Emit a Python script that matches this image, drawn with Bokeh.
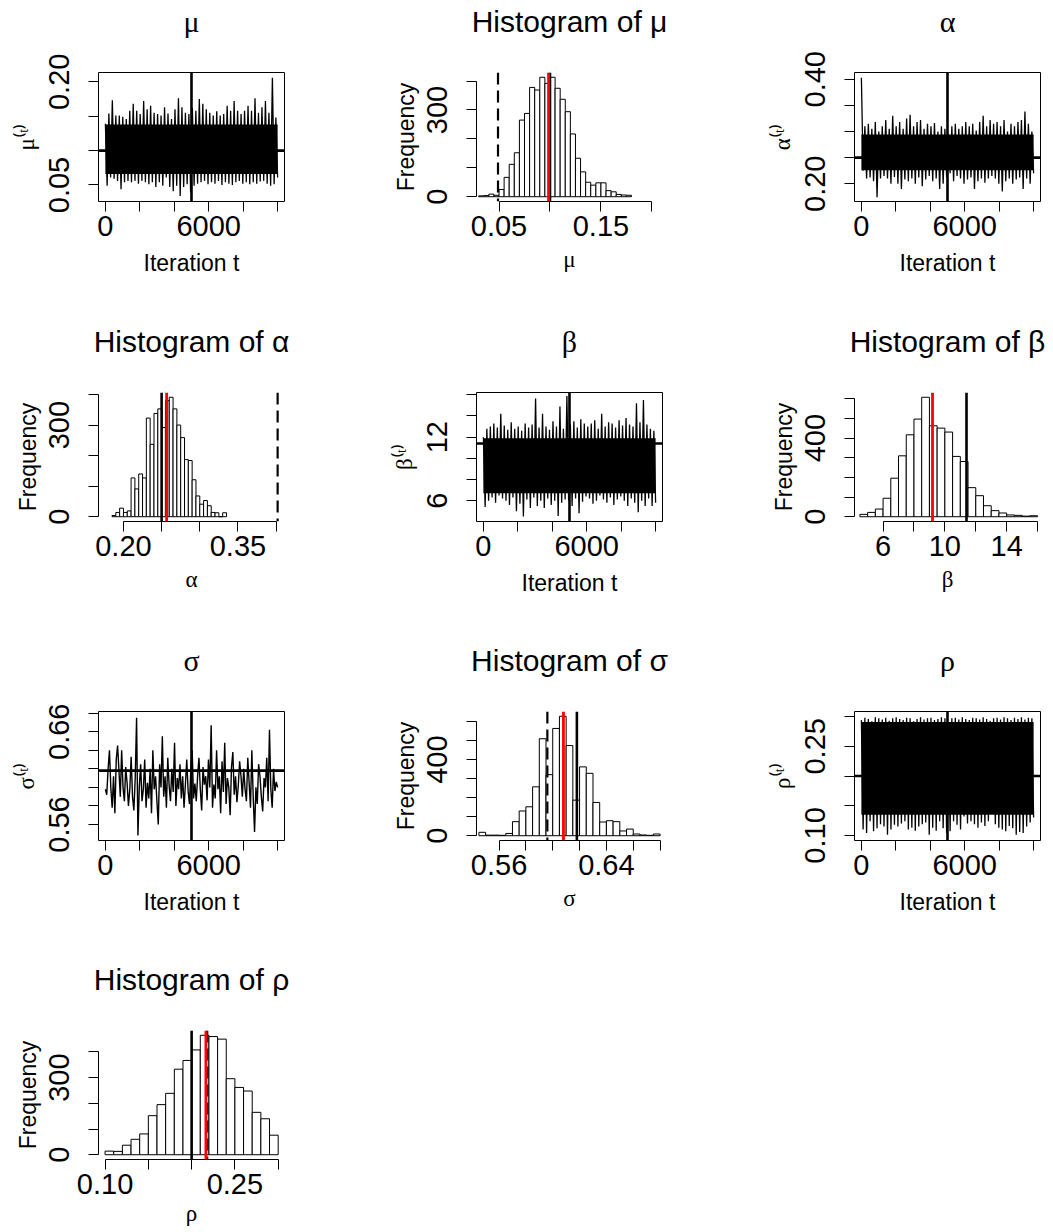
import numpy as np
from bokeh.plotting import figure
from bokeh.layouts import gridplot
from bokeh.models import Span, FixedTicker, Range1d, Title
from bokeh.embed import file_html
from bokeh.resources import INLINE

# ---------------- data ----------------
N_ITER = 10000
BURN_IN = 5000

# trace envelopes (per-bin max / min of the chains) and the solid core band
mu_hi = [0.139, 0.154, 0.173, 0.151, 0.151, 0.149, 0.146, 0.158, 0.168, 0.158,
         0.153, 0.172, 0.160, 0.165, 0.155, 0.153, 0.151, 0.163, 0.154, 0.146,
         0.160, 0.176, 0.163, 0.155, 0.153, 0.162, 0.158, 0.175, 0.168, 0.160,
         0.155, 0.151, 0.157, 0.151, 0.153, 0.165, 0.158, 0.172, 0.158, 0.153,
         0.158, 0.165, 0.158, 0.176, 0.155, 0.163, 0.172, 0.155, 0.206, 0.148]
mu_lo = [0.049, 0.061, 0.059, 0.056, 0.044, 0.054, 0.056, 0.054, 0.056, 0.052,
         0.056, 0.054, 0.051, 0.054, 0.047, 0.054, 0.049, 0.061, 0.047, 0.041,
         0.049, 0.034, 0.047, 0.051, 0.039, 0.049, 0.052, 0.054, 0.056, 0.051,
         0.054, 0.052, 0.056, 0.050, 0.054, 0.052, 0.050, 0.054, 0.056, 0.052,
         0.054, 0.051, 0.054, 0.052, 0.055, 0.056, 0.052, 0.049, 0.051, 0.061]
mu_core = [0.066, 0.138]

alpha_hi = [0.403, 0.310, 0.315, 0.305, 0.318, 0.300, 0.310, 0.322, 0.305, 0.330,
            0.310, 0.318, 0.305, 0.325, 0.332, 0.310, 0.318, 0.322, 0.305, 0.315,
            0.310, 0.316, 0.300, 0.310, 0.305, 0.295, 0.310, 0.315, 0.305, 0.310,
            0.318, 0.310, 0.315, 0.302, 0.318, 0.330, 0.310, 0.322, 0.315, 0.318,
            0.310, 0.322, 0.300, 0.315, 0.310, 0.318, 0.322, 0.338, 0.315, 0.300]
alpha_lo = [0.225, 0.210, 0.212, 0.205, 0.174, 0.210, 0.215, 0.210, 0.200, 0.213,
            0.200, 0.190, 0.208, 0.205, 0.210, 0.200, 0.212, 0.195, 0.208, 0.215,
            0.205, 0.210, 0.190, 0.200, 0.212, 0.220, 0.205, 0.215, 0.210, 0.200,
            0.208, 0.212, 0.190, 0.205, 0.210, 0.202, 0.210, 0.215, 0.210, 0.200,
            0.185, 0.205, 0.210, 0.200, 0.208, 0.212, 0.190, 0.210, 0.200, 0.220]
alpha_core = [0.226, 0.294]

beta_hi = [12.0, 12.8, 13.0, 13.3, 12.9, 14.2, 13.1, 12.7, 13.4, 12.8,
           13.0, 12.6, 13.3, 12.9, 13.2, 15.65, 12.9, 14.2, 13.0, 12.7,
           13.5, 13.0, 14.9, 12.8, 15.9, 13.2, 13.5, 12.9, 13.7, 13.3,
           13.0, 13.3, 13.6, 12.8, 14.2, 13.0, 13.4, 13.3, 12.9, 13.6,
           13.1, 13.8, 13.2, 13.0, 15.2, 13.4, 15.5, 13.2, 12.8, 12.6]
beta_lo = [5.4, 6.0, 6.3, 5.8, 6.5, 6.2, 6.0, 5.6, 6.3, 5.0,
           5.7, 4.5, 6.1, 5.3, 6.3, 5.5, 6.0, 5.3, 6.2, 5.6,
           6.0, 4.55, 5.8, 6.1, 6.0, 5.5, 6.2, 4.8, 5.9, 6.4,
           6.2, 5.7, 6.0, 6.5, 6.1, 5.8, 6.3, 5.6, 6.1, 6.4,
           6.0, 5.5, 6.2, 5.8, 4.9, 6.0, 5.5, 6.2, 5.5, 5.8]
beta_core = [6.7, 11.9]

sigma_trace = [0.598, 0.592, 0.620, 0.640, 0.600, 0.578, 0.612, 0.572, 0.630, 0.645,
               0.618, 0.590, 0.640, 0.600, 0.585, 0.622, 0.605, 0.580, 0.598, 0.633,
               0.590, 0.575, 0.610, 0.675, 0.548, 0.600, 0.625, 0.585, 0.598, 0.630,
               0.578, 0.605, 0.588, 0.620, 0.572, 0.640, 0.598, 0.612, 0.585, 0.560,
               0.625, 0.600, 0.655, 0.590, 0.612, 0.578, 0.632, 0.602, 0.585, 0.620,
               0.595, 0.648, 0.580, 0.610, 0.598, 0.625, 0.588, 0.612, 0.578, 0.603,
               0.630, 0.596, 0.582, 0.620, 0.640, 0.588, 0.604, 0.585, 0.612, 0.632,
               0.598, 0.575, 0.622, 0.603, 0.612, 0.586, 0.630, 0.600, 0.667, 0.578,
               0.603, 0.588, 0.640, 0.598, 0.612, 0.572, 0.628, 0.595, 0.648, 0.582,
               0.610, 0.600, 0.570, 0.622, 0.638, 0.592, 0.612, 0.584, 0.602, 0.628,
               0.612, 0.590, 0.620, 0.598, 0.585, 0.632, 0.605, 0.578, 0.640, 0.590,
               0.552, 0.600, 0.582, 0.625, 0.612, 0.590, 0.574, 0.610, 0.600, 0.632,
               0.585, 0.662, 0.598, 0.578, 0.620, 0.596, 0.606, 0.600]

rho_hi = [0.294, 0.298, 0.296, 0.292, 0.299, 0.297, 0.295, 0.298, 0.293, 0.297,
          0.299, 0.296, 0.294, 0.298, 0.297, 0.292, 0.296, 0.299, 0.295, 0.297,
          0.298, 0.294, 0.296, 0.299, 0.297, 0.288, 0.297, 0.298, 0.295, 0.299,
          0.296, 0.294, 0.298, 0.297, 0.295, 0.299, 0.296, 0.293, 0.297, 0.298,
          0.295, 0.299, 0.297, 0.294, 0.298, 0.296, 0.299, 0.295, 0.298, 0.297]
rho_lo = [0.110, 0.104, 0.124, 0.107, 0.112, 0.119, 0.115, 0.101, 0.110, 0.118,
          0.115, 0.120, 0.124, 0.110, 0.113, 0.108, 0.115, 0.119, 0.122, 0.101,
          0.113, 0.108, 0.124, 0.112, 0.104, 0.107, 0.124, 0.118, 0.110, 0.132,
          0.120, 0.124, 0.119, 0.113, 0.122, 0.116, 0.124, 0.155, 0.119, 0.113,
          0.110, 0.107, 0.116, 0.112, 0.101, 0.106, 0.104, 0.115, 0.122, 0.130]
rho_core = [0.135, 0.291]

# histograms: first break, bin width, counts
mu_break0, mu_bw = 0.03, 0.005
mu_counts = [3, 4, 9, 5, 25, 67, 112, 152, 265, 288, 378, 369, 413, 392, 413,
             375, 337, 294, 217, 133, 86, 50, 40, 48, 48, 21, 17, 8, 6, 5]
alpha_break0, alpha_bw = 0.185, 0.005
alpha_counts = [4, 14, 28, 14, 19, 127, 91, 140, 127, 323, 237, 338, 353, 292, 380,
                391, 353, 300, 259, 187, 184, 121, 68, 41, 53, 36, 14, 13, 0, 13]
beta_break0, beta_bw = 4.5, 0.5
beta_counts = [12, 22, 39, 94, 196, 310, 417, 497, 608, 463, 451, 431, 307, 281,
               148, 107, 56, 31, 19, 9, 7, 3, 5]
sigma_break0, sigma_bw = 0.545, 0.005
sigma_counts = [18, 3, 3, 2, 12, 74, 130, 152, 257, 510, 321, 564, 628, 474, 187,
                362, 328, 175, 72, 79, 74, 25, 35, 9, 4, 2, 9]
rho_break0, rho_bw = 0.10, 0.01
rho_counts = [14, 13, 37, 60, 81, 152, 195, 239, 333, 367, 408, 465, 460, 450,
              296, 262, 248, 165, 140, 76]

# reference lines: true value, posterior mean, starting value
true_vals = {"mu": 0.10, "alpha": 0.25, "beta": 11.4, "sigma": 0.618, "rho": 0.20}
post_means = {"mu": 0.0986, "alpha": 0.2566, "beta": 9.2, "sigma": 0.608, "rho": 0.2165}
start_vals = {"mu": 0.049, "alpha": 0.402, "beta": None, "sigma": 0.596, "rho": 0.218}

# axis ticks / labels
iter_ticks = [0, 2000, 4000, 6000, 8000, 10000]
iter_labels = ["0", "", "", "6000", "", ""]

# ---------------- style ----------------
SANS = "Liberation Sans"
SERIF = "Liberation Serif"
COL_W = [378, 378, 297]
ROW_H = [320, 319, 319, 274]
FL, FW, FT, FH = 98, 186, 72, 129
TITLE_GAP = 32   # spacer between frame and title


def make_fig(w, h, xr, yr, title, title_font, outline):
    p = figure(width=w, height=h, x_range=Range1d(*xr), y_range=Range1d(*yr),
               output_backend="svg", toolbar_location=None, tools="", title=None,
               min_border_left=FL, min_border_right=w - FL - FW,
               min_border_top=FT, min_border_bottom=h - FT - FH)
    # spacer between the frame and the title (pushes the title upwards)
    p.add_layout(Title(text=" ", text_font_size="1px", standoff=TITLE_GAP), "above")
    p.add_layout(Title(text=title, align="center", text_font=title_font,
                       text_font_size="30px", text_font_style="normal",
                       text_color="black", standoff=0), "above")
    p.grid.visible = False
    p.outline_line_color = "black" if outline else None
    p.outline_line_width = 1
    p.background_fill_color = "white"
    p.border_fill_color = "white"
    return p


def style_axis(ax, ticks, labels, label, label_font, is_y, lab_so):
    ax.ticker = FixedTicker(ticks=ticks, minor_ticks=[])
    ax.major_label_overrides = {t: l for t, l in zip(ticks, labels)}
    ax.bounds = (ticks[0], ticks[-1])
    ax.axis_label = label
    ax.axis_label_text_font = label_font
    ax.axis_label_text_font_size = "23px"
    ax.axis_label_text_font_style = "normal"
    ax.axis_label_text_color = "black"
    ax.major_label_text_font = SANS
    ax.major_label_text_font_size = "29px"
    ax.major_label_text_color = "black"
    ax.axis_line_color = "black"
    ax.axis_line_width = 1
    ax.major_tick_line_color = "black"
    ax.major_tick_line_width = 1
    ax.major_tick_out = 10
    ax.major_tick_in = 0
    ax.minor_tick_line_color = None
    if is_y:
        ax.major_label_orientation = "vertical"
        ax.major_label_standoff = 19
    else:
        ax.major_label_standoff = 4
    ax.axis_label_standoff = lab_so


def trace_plot(w, h, sym, yr, yticks, ylabels, true_v):
    p = make_fig(w, h, (-399, 10400), yr, sym, SERIF, True)
    p.add_layout(Span(location=BURN_IN, dimension="height", line_color="black", line_width=2.6))
    p.add_layout(Span(location=true_v, dimension="width", line_color="black", line_width=2.6))
    style_axis(p.xaxis[0], iter_ticks, iter_labels, "Iteration t", SANS, False, 11)
    style_axis(p.yaxis[0], yticks, ylabels, sym + "\u207D\u1D57\u207E", SERIF, True, 8)
    return p


def dense_trace(p, hi, lo, core):
    ys = []
    for a, b in zip(hi, lo):
        ys += [a, b]
    xs = np.linspace(1, N_ITER, len(ys))
    p.varea(x=[1, N_ITER], y1=[core[0], core[0]], y2=[core[1], core[1]], fill_color="black")
    p.line(xs, ys, line_color="black", line_width=1.3)


def hist_plot(w, h, sym, xr, b0, bw, counts, xticks, xlabels, yticks, ylabels, key):
    m = max(counts)
    p = make_fig(w, h, xr, (-0.04 * m, 1.04 * m), "Histogram of " + sym, SANS, False)
    edges = b0 + bw * np.arange(len(counts) + 1)
    p.quad(left=edges[:-1], right=edges[1:], bottom=0, top=counts,
           fill_color="white", line_color="black", line_width=1)
    if start_vals[key] is not None:
        p.add_layout(Span(location=start_vals[key], dimension="height", line_color="black",
                          line_width=2.2, line_dash="12 6"))
    p.add_layout(Span(location=true_vals[key], dimension="height", line_color="black", line_width=2.6))
    p.add_layout(Span(location=post_means[key], dimension="height", line_color="#ff0000", line_width=2.8))
    style_axis(p.xaxis[0], xticks, xlabels, sym, SERIF, False, 8)
    style_axis(p.yaxis[0], yticks, ylabels, "Frequency", SANS, True, 6)
    return p


p1 = trace_plot(COL_W[0], ROW_H[0], "μ", (0.026, 0.2135), [0.05, 0.10, 0.15, 0.20],
                ["0.05", "", "", "0.20"], true_vals["mu"])
dense_trace(p1, mu_hi, mu_lo, mu_core)
p2 = hist_plot(COL_W[1], ROW_H[0], "μ", (0.0279, 0.2104), mu_break0, mu_bw, mu_counts,
               [0.05, 0.10, 0.15, 0.20], ["0.05", "", "0.15", ""],
               [0, 100, 200, 300, 400], ["0", "", "", "300", ""], "mu")
p3 = trace_plot(COL_W[2], ROW_H[0], "α", (0.166, 0.4129), [0.20, 0.25, 0.30, 0.35, 0.40],
                ["0.20", "", "", "", "0.40"], true_vals["alpha"])
dense_trace(p3, alpha_hi, alpha_lo, alpha_core)

p4 = hist_plot(COL_W[0], ROW_H[1], "α", (0.1673, 0.411), alpha_break0, alpha_bw, alpha_counts,
               [0.20, 0.25, 0.30, 0.35, 0.40], ["0.20", "", "", "0.35", ""],
               [0, 100, 200, 300, 400], ["0", "", "", "300", ""], "alpha")
p5 = trace_plot(COL_W[1], ROW_H[1], "β", (4.03, 16.22), [6, 8, 10, 12, 14, 16],
                ["6", "", "", "12", "", ""], true_vals["beta"])
dense_trace(p5, beta_hi, beta_lo, beta_core)
p6 = hist_plot(COL_W[2], ROW_H[1], "β", (4.15, 16.19), beta_break0, beta_bw, beta_counts,
               [6, 8, 10, 12, 14, 16], ["6", "", "10", "", "14", ""],
               [0, 100, 200, 300, 400, 500, 600], ["0", "", "", "", "400", "", ""], "beta")

p7 = trace_plot(COL_W[0], ROW_H[2], "σ", (0.5427, 0.6818),
                [0.56, 0.58, 0.60, 0.62, 0.64, 0.66, 0.68],
                ["0.56", "", "", "", "", "0.66", ""], true_vals["sigma"])
p7.line(np.linspace(1, N_ITER, len(sigma_trace)), sigma_trace, line_color="black", line_width=1.4)
p8 = hist_plot(COL_W[1], ROW_H[2], "σ", (0.5432, 0.6818), sigma_break0, sigma_bw, sigma_counts,
               [0.56, 0.58, 0.60, 0.62, 0.64, 0.66, 0.68], ["0.56", "", "", "", "0.64", "", ""],
               [0, 100, 200, 300, 400, 500, 600], ["0", "", "", "", "400", "", ""], "sigma")
p9 = trace_plot(COL_W[2], ROW_H[2], "ρ", (0.0915, 0.3085), [0.10, 0.15, 0.20, 0.25, 0.30],
                ["0.10", "", "", "0.25", ""], true_vals["rho"])
dense_trace(p9, rho_hi, rho_lo, rho_core)

p10 = hist_plot(COL_W[0], ROW_H[3], "ρ", (0.0924, 0.3073), rho_break0, rho_bw, rho_counts,
                [0.10, 0.15, 0.20, 0.25, 0.30], ["0.10", "", "", "0.25", ""],
                [0, 100, 200, 300, 400], ["0", "", "", "300", ""], "rho")
p10.xaxis[0].axis_label_standoff = 4

grid = gridplot([[p1, p2, p3], [p4, p5, p6], [p7, p8, p9], [p10, None, None]],
                toolbar_location=None)

open("out.html", "w").write(file_html(grid, INLINE))
